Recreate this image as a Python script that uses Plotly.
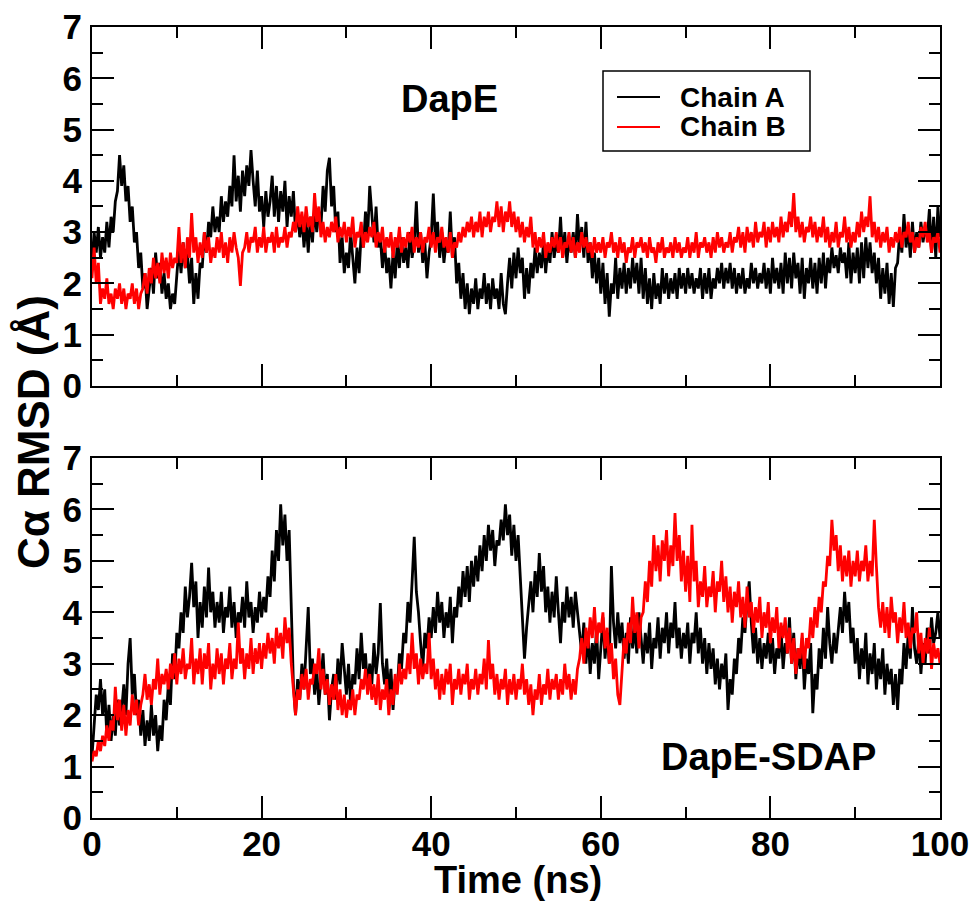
import plotly.graph_objects as go

# ---------------- data (RMSD in Angstrom, sampled every 0.25 ns) ----------------
TIME_STEP_NS = 0.25

top_chain_a = [
    2.4, 3.0, 2.6, 3.1, 2.5, 2.9, 2.6, 3.2, 2.7, 3.3, 3.0, 3.6, 3.8, 4.5, 3.9, 4.3, 3.6, 3.9, 3.2, 3.5,
    2.8, 3.0, 2.3, 2.6, 1.9, 2.2, 1.5, 1.9, 2.3, 1.8, 2.6, 2.1, 2.4, 1.8, 2.2, 1.7, 2.0, 1.5, 1.8, 1.6,
    2.1, 2.7, 2.2, 2.8, 2.3, 2.6, 2.0, 2.5, 1.6, 2.2, 1.7, 2.4, 2.3, 3.0, 2.6, 3.2, 2.9, 3.5, 3.0, 3.3,
    3.0, 3.7, 3.2, 3.6, 3.3, 3.9, 3.5, 4.5, 3.6, 4.1, 3.4, 4.2, 3.7, 4.3, 3.9, 4.6, 4.0, 3.5, 4.2, 3.4,
    3.7, 3.1, 3.8, 3.3, 3.6, 4.1, 3.3, 3.9, 3.2, 3.8, 3.4, 4.0, 3.1, 3.7, 3.3, 3.8, 3.0, 3.4, 2.9, 3.3,
    2.7, 3.2, 2.6, 3.3, 2.8, 3.5, 3.0, 3.4, 3.1, 3.9, 3.4, 4.2, 4.45, 3.5, 3.9, 3.0, 3.4, 2.4, 2.9, 2.2,
    2.6, 2.3, 3.0, 2.5, 2.0, 2.7, 2.2, 3.0, 2.7, 3.4, 2.9, 3.9, 3.3, 2.8, 3.5, 2.7, 2.9, 2.3, 2.8, 2.2,
    2.5, 1.9, 2.6, 2.1, 2.8, 2.3, 2.9, 2.4, 2.7, 2.3, 3.0, 2.5, 2.8, 3.6, 2.6, 3.0, 2.4, 2.8, 2.1, 2.6,
    2.9, 3.75, 2.8, 3.2, 2.5, 3.0, 2.4, 2.8, 2.6, 3.4, 2.5, 2.9, 2.0, 2.4, 1.7, 2.2, 1.5, 2.0, 1.4, 1.9,
    1.6, 2.1, 1.5, 1.9, 1.7, 2.2, 1.6, 2.0, 1.5, 2.1, 1.7, 1.9, 1.5, 2.2, 1.6, 1.4, 2.0, 2.5, 1.9, 2.6,
    2.1, 2.7, 2.2, 2.5, 1.7, 2.3, 1.8, 2.4, 2.1, 2.7, 2.2, 2.6, 2.3, 2.8, 2.2, 2.7, 2.4, 3.0, 2.5, 2.8,
    2.6, 3.3, 2.5, 3.0, 2.4, 2.9, 2.6, 3.0, 2.5, 3.35, 2.7, 3.1, 2.5, 3.2, 2.4, 2.8, 2.1, 2.6, 2.0, 2.5,
    1.8, 2.4, 1.6, 2.2, 1.35, 2.0, 1.8, 2.5, 1.7, 2.3, 1.9, 2.4, 1.8, 2.3, 1.9, 2.5, 2.0, 2.4, 1.8, 2.5,
    1.7, 2.3, 1.6, 2.1, 1.5, 2.2, 1.7, 2.0, 1.6, 2.3, 1.8, 2.2, 1.7, 2.1, 1.8, 2.2, 1.7, 2.3, 1.9, 2.2,
    1.8, 2.3, 1.9, 2.2, 1.8, 2.1, 1.9, 2.3, 1.7, 2.2, 1.8, 2.3, 1.7, 2.1, 1.9, 2.3, 2.0, 2.4, 1.9, 2.3,
    2.0, 2.4, 1.9, 2.3, 1.8, 2.2, 1.9, 2.3, 1.8, 2.1, 1.9, 2.4, 2.0, 2.3, 1.9, 2.2, 2.0, 2.4, 1.9, 2.3,
    1.8, 2.5, 2.0, 2.3, 1.9, 2.4, 1.8, 2.6, 2.0, 2.5, 1.9, 2.6, 2.1, 2.4, 1.8, 2.5, 1.7, 2.3, 2.0, 2.5,
    1.9, 2.4, 1.8, 2.5, 2.0, 2.6, 1.9, 2.5, 2.2, 2.7, 2.3, 2.55, 2.2, 2.7, 2.4, 2.6, 2.1, 2.8, 2.0, 2.6,
    2.2, 2.7, 2.0, 2.8, 2.1, 2.9, 2.3, 2.8, 2.2, 2.6, 2.0, 2.5, 1.7, 2.3, 1.8, 2.4, 1.6, 2.2, 1.54, 2.3,
    2.4, 3.0, 2.6, 3.35, 2.7, 3.1, 2.5, 3.2, 2.6, 3.0, 2.7, 3.2, 2.8, 3.1, 2.9, 3.45, 2.6, 3.3, 2.5, 3.5,
    2.9,
]

top_chain_b = [
    2.1, 2.7, 2.0, 2.4, 1.6, 1.9, 1.7, 2.1, 1.6, 1.8, 1.5, 1.9, 1.7, 2.0, 1.6, 1.9, 1.5, 1.8, 1.7, 2.0,
    1.6, 1.9, 1.5, 1.8, 1.9, 2.2, 1.8, 2.3, 2.0, 2.5, 2.1, 2.4, 2.0, 2.6, 2.2, 2.5, 2.1, 2.6, 2.3, 2.5,
    2.4, 3.1, 2.4, 2.8, 2.3, 2.9, 2.5, 3.37, 2.6, 2.9, 2.4, 2.8, 2.5, 3.0, 2.6, 2.9, 2.4, 2.7, 2.5, 2.9,
    2.6, 3.0, 2.5, 2.8, 2.4, 2.9, 2.6, 3.0, 2.7, 2.5, 1.95, 2.6, 2.7, 3.0, 2.6, 2.9, 2.8, 3.1, 2.6, 2.9,
    2.7, 3.1, 2.6, 2.9, 2.8, 3.0, 2.6, 3.1, 2.7, 2.9, 2.8, 3.1, 2.7, 3.0, 2.9, 3.2, 3.0, 3.5, 3.1, 3.4,
    3.0, 3.5, 3.1, 3.3, 3.0, 3.76, 3.2, 3.5, 2.9, 3.2, 2.8, 3.1, 2.9, 3.2, 3.0, 3.3, 2.8, 3.1, 2.9, 3.2,
    2.8, 3.1, 2.9, 3.3, 2.7, 3.0, 2.9, 3.2, 2.7, 3.0, 2.8, 3.1, 2.9, 3.2, 2.7, 3.0, 2.8, 3.1, 2.6, 2.9,
    2.7, 3.0, 2.5, 2.9, 2.7, 3.1, 2.6, 2.9, 2.7, 3.0, 2.8, 3.1, 2.6, 2.9, 2.7, 3.0, 2.6, 2.9, 2.8, 3.1,
    2.7, 3.0, 2.6, 2.9, 2.8, 3.1, 2.7, 2.9, 2.6, 3.0, 2.5, 2.8, 2.7, 3.0, 2.8, 3.1, 2.9, 3.2, 3.0, 3.3,
    2.9, 3.2, 3.0, 3.4, 2.9, 3.3, 3.1, 3.4, 3.0, 3.3, 3.2, 3.6, 3.1, 3.5, 3.0, 3.4, 3.2, 3.6, 3.1, 3.4,
    3.0, 3.3, 2.9, 3.2, 2.8, 3.1, 2.9, 3.3, 2.7, 3.0, 2.6, 2.9, 2.7, 3.0, 2.5, 2.8, 2.6, 2.9, 2.7, 3.0,
    2.6, 2.9, 2.5, 2.8, 2.7, 3.0, 2.6, 2.9, 2.5, 2.8, 2.6, 3.0, 2.7, 2.9, 2.6, 2.8, 2.5, 2.9, 2.6, 2.8,
    2.6, 2.9, 2.5, 2.8, 2.7, 3.0, 2.6, 2.8, 2.5, 2.9, 2.6, 2.8, 2.4, 2.7, 2.6, 2.9, 2.5, 2.8, 2.7, 2.9,
    2.6, 2.8, 2.5, 2.9, 2.6, 2.7, 2.4, 2.8, 2.6, 2.9, 2.5, 2.7, 2.6, 2.8, 2.5, 2.9, 2.6, 2.8, 2.5, 2.7,
    2.6, 2.9, 2.5, 2.8, 2.6, 3.0, 2.5, 2.8, 2.7, 2.9, 2.6, 2.8, 2.5, 2.9, 2.6, 3.0, 2.7, 2.9, 2.6, 2.8,
    2.7, 3.0, 2.6, 2.9, 2.8, 3.1, 2.7, 3.0, 2.6, 3.1, 2.8, 3.0, 2.7, 3.2, 2.8, 3.0, 2.9, 3.2, 2.7, 3.1,
    2.8, 3.2, 2.9, 3.1, 2.8, 3.3, 2.9, 3.2, 3.0, 3.4, 3.1, 3.76, 3.0, 3.3, 2.9, 3.2, 2.8, 3.1, 3.0, 3.3,
    2.9, 3.2, 2.8, 3.1, 2.9, 3.3, 2.8, 3.1, 2.7, 3.0, 2.8, 3.2, 2.7, 3.0, 2.9, 3.3, 2.8, 3.1, 2.7, 3.0,
    2.8, 3.2, 2.9, 3.4, 3.0, 3.3, 3.1, 3.7, 2.9, 3.2, 2.8, 3.1, 2.7, 3.0, 2.8, 3.1, 2.6, 2.9, 2.7, 3.0,
    2.8, 3.1, 2.7, 3.0, 2.9, 3.2, 2.8, 3.0, 2.6, 2.9, 2.7, 3.1, 2.9, 3.2, 2.8, 3.0, 2.6, 2.9, 2.8, 3.0,
    2.6,
]

bottom_chain_a = [
    1.2, 1.8, 2.4, 2.1, 2.7, 2.0, 2.5, 1.6, 2.2, 1.5, 2.0, 1.6, 2.3, 1.8, 2.1, 2.6, 2.0, 3.0, 3.5, 2.4,
    2.8, 2.0, 2.3, 1.6, 2.1, 1.4, 1.9, 1.5, 2.2, 1.6, 2.0, 1.3, 1.8, 1.5, 2.3, 1.9, 2.6, 2.2, 3.2, 2.7,
    3.6, 3.3, 4.0, 3.6, 4.5, 3.9, 4.3, 4.96, 4.1, 4.6, 3.5, 4.2, 3.7, 4.5, 3.9, 4.87, 4.0, 4.4, 3.7, 4.2,
    3.8, 4.4, 3.6, 4.1, 3.9, 4.5, 3.7, 4.2, 3.5, 4.0, 3.8, 4.3, 3.7, 4.6, 3.9, 4.2, 3.6, 4.1, 3.8, 4.4,
    3.9, 4.3, 4.0, 4.7, 4.3, 5.2, 4.6, 5.6, 5.0, 6.1, 5.3, 5.9, 5.0, 5.6, 4.0, 2.6, 2.0, 2.7, 2.3, 3.0,
    2.5, 3.3, 4.1, 2.8, 3.1, 2.4, 2.9, 2.2, 2.7, 3.2, 2.4, 2.8, 1.9, 2.5, 2.8, 2.3, 3.1, 2.6, 3.4, 2.8,
    2.4, 3.0, 2.2, 2.8, 2.6, 3.3, 2.7, 3.6, 2.9, 3.2, 2.5, 3.0, 2.6, 3.4, 2.8, 3.2, 4.18, 3.0, 2.6, 3.1,
    2.4, 2.9, 2.1, 2.7, 2.5, 3.2, 2.9, 3.6, 3.4, 4.2, 3.8, 4.6, 5.47, 4.4, 4.0, 3.4, 2.9, 3.6, 3.3, 3.9,
    3.5, 4.1, 3.6, 4.4, 3.8, 4.2, 3.5, 4.0, 3.7, 4.3, 3.4, 4.1, 3.9, 4.5, 4.1, 4.8, 4.3, 4.9, 4.2, 5.0,
    4.5, 5.1, 4.6, 5.3, 4.8, 5.5, 5.0, 5.7, 5.2, 5.6, 4.9, 5.4, 5.3, 5.8, 5.4, 6.1, 5.5, 5.9, 5.1, 5.7,
    5.0, 5.5, 4.7, 4.1, 3.1, 3.7, 4.2, 4.6, 4.0, 4.8, 4.3, 5.15, 4.4, 4.9, 4.0, 4.5, 3.8, 4.4, 3.9, 4.7,
    4.0, 3.4, 4.2, 3.8, 4.5, 3.9, 4.3, 3.7, 4.4, 4.0, 3.6, 3.2, 3.8, 3.0, 3.6, 2.8, 3.4, 3.0, 3.7, 2.7,
    3.3, 3.9, 3.1, 3.6, 3.0, 4.9, 3.8, 3.3, 4.0, 3.4, 3.8, 3.1, 3.6, 3.0, 3.9, 3.3, 3.7, 3.2, 4.0, 3.5,
    3.0, 3.6, 3.2, 3.8, 2.9, 3.5, 3.3, 3.9, 3.1, 3.7, 3.4, 4.0, 3.2, 3.8, 3.5, 4.2, 3.3, 3.7, 3.1, 3.6,
    3.3, 3.8, 3.0, 3.6, 3.4, 4.0, 3.2, 3.7, 3.0, 3.5, 2.8, 3.4, 2.9, 3.3, 2.6, 3.1, 2.5, 3.0, 2.7, 3.2,
    2.1, 2.7, 2.4, 3.1, 2.8, 3.5, 3.2, 3.9, 3.6, 4.2, 4.6, 3.8, 3.2, 3.7, 3.0, 3.5, 2.9, 3.4, 3.1, 3.6,
    3.0, 3.5, 2.8, 3.3, 3.1, 3.7, 2.9, 3.4, 3.2, 3.9, 3.0, 3.6, 2.7, 3.3, 2.9, 3.5, 2.5, 3.1, 2.8, 3.4,
    2.04, 2.8, 2.5, 3.3, 2.9, 3.7, 3.1, 4.1, 3.4, 3.0, 3.6, 3.2, 3.7, 4.1, 3.6, 4.4, 3.8, 4.2, 3.4, 3.7,
    3.0, 3.5, 2.7, 3.3, 2.9, 3.6, 2.6, 3.2, 2.8, 3.4, 2.5, 3.1, 2.7, 3.3, 2.4, 3.0, 2.6, 2.9, 2.2, 2.8,
    2.1, 2.9, 2.6, 3.4, 2.9, 3.6, 3.1, 4.1, 3.3, 3.0, 3.5, 2.8, 3.4, 3.0, 3.7, 3.2, 3.9, 3.4, 3.6, 4.0,
    3.5,
]

bottom_chain_b = [
    1.1, 1.3, 1.2, 1.5, 1.3, 1.6, 1.4, 1.8, 1.5, 1.9, 1.7, 2.55, 1.9, 2.3, 1.7, 2.2, 1.6, 2.1, 1.8, 2.4,
    2.0, 2.3, 1.8, 2.2, 2.4, 2.8, 2.3, 2.6, 2.2, 2.7, 2.5, 3.1, 2.4, 2.8, 2.6, 2.9, 2.5, 3.0, 2.7, 3.2,
    2.6, 3.1, 2.8, 3.3, 2.7, 3.0, 2.9, 3.5, 2.6, 3.1, 2.8, 3.3, 2.6, 3.2, 2.9, 3.4, 2.5, 3.0, 2.7, 3.3,
    2.8, 3.2, 2.6, 3.1, 2.9, 3.4, 2.7, 3.1, 2.9, 3.8, 3.0, 3.3, 2.7, 3.2, 2.9, 3.5, 2.8, 3.3, 3.0, 3.4,
    2.9, 3.4, 3.1, 3.6, 3.2, 3.5, 3.0, 3.7, 3.3, 3.6, 3.1, 3.9, 3.4, 3.7, 3.0, 2.4, 2.0, 2.5, 2.3, 2.8,
    2.5, 2.9, 2.3, 2.7, 2.6, 3.0, 2.8, 3.3, 2.5, 2.9, 2.4, 2.7, 2.2, 2.6, 2.3, 2.8, 2.1, 2.5, 2.0, 2.4,
    1.95, 2.3, 2.1, 2.5, 2.0, 2.4, 2.3, 2.7, 2.5, 2.9, 2.4, 2.8, 2.3, 2.6, 2.2, 2.8, 2.1, 2.5, 2.3, 2.7,
    2.0, 2.5, 2.2, 2.8, 2.4, 3.0, 2.6, 2.9, 2.7, 3.2, 2.8, 3.6, 2.9, 3.2, 2.6, 3.1, 2.7, 3.0, 2.8, 3.6,
    2.7, 3.1, 2.5, 2.9, 2.3, 2.8, 2.4, 2.9, 2.6, 3.0, 2.2, 2.7, 2.5, 2.9, 2.4, 2.8, 2.6, 3.0, 2.3, 2.7,
    2.5, 2.9, 2.4, 2.8, 2.6, 3.1, 2.5, 3.46, 2.7, 3.0, 2.4, 2.8, 2.3, 2.7, 2.5, 2.9, 2.2, 2.7, 2.4, 2.8,
    2.3, 2.7, 2.5, 3.0, 2.4, 2.7, 2.2, 2.6, 2.0, 2.5, 2.3, 2.8, 2.2, 2.6, 2.4, 2.9, 2.3, 2.7, 2.5, 2.8,
    2.3, 2.7, 2.4, 3.0, 2.5, 2.8, 2.3, 2.7, 2.4, 2.9, 3.1, 3.5, 3.0, 3.7, 3.3, 3.9, 3.5, 4.1, 3.4, 3.8,
    3.6, 4.0, 3.3, 3.7, 3.0, 3.4, 2.7, 3.1, 2.4, 2.2, 2.9, 3.5, 3.2, 3.8, 3.4, 4.3, 3.6, 4.0, 3.3, 3.9,
    4.0, 4.6, 4.2, 5.0, 4.5, 5.5, 4.8, 5.3, 4.6, 5.4, 5.0, 5.6, 4.7, 5.3, 4.9, 5.93, 5.0, 5.5, 4.6, 5.2,
    4.4, 5.1, 4.2, 5.7, 4.6, 5.0, 4.1, 4.6, 4.3, 4.9, 4.1, 4.5, 4.3, 4.8, 4.0, 4.6, 4.4, 5.0, 4.2, 4.7,
    4.0, 4.5, 3.8, 4.4, 4.1, 4.6, 3.9, 4.3, 3.7, 4.5, 3.9, 4.2, 3.6, 4.1, 3.8, 4.3, 3.5, 4.0, 3.7, 4.2,
    3.4, 3.9, 3.6, 4.1, 3.3, 3.8, 3.5, 3.9, 3.2, 3.7, 3.0, 3.5, 2.8, 3.3, 3.1, 3.6, 2.9, 3.5, 3.3, 3.9,
    3.5, 4.1, 3.7, 4.3, 4.0, 4.6, 4.5, 5.1, 4.9, 5.8, 5.2, 5.5, 4.8, 5.3, 4.6, 5.1, 4.7, 5.2, 4.5, 5.0,
    4.7, 5.2, 4.6, 5.0, 4.8, 5.3, 4.6, 5.0, 4.7, 5.8, 4.9, 4.1, 3.7, 4.2, 3.6, 4.1, 3.5, 4.3, 3.8, 4.0,
    3.4, 3.9, 3.6, 4.2, 3.5, 3.8, 3.3, 3.7, 3.6, 4.0, 3.2, 3.6, 3.0, 3.5, 3.2, 3.7, 2.9, 3.4, 3.1, 3.3,
    3.0,
]

series_names = ["Chain A", "Chain B"]
series_colors = ["black", "#ff0000"]
panel_labels = ["DapE", "DapE-SDAP"]
x_title = "Time (ns)"
y_title = "C\u03b1 RMSD (\u00c5)"

time_ns = [i * TIME_STEP_NS for i in range(len(top_chain_a))]

# ---------------- figure ----------------
FONT_FAMILY = "Liberation Sans, Arial, sans-serif"
tick_font = dict(family=FONT_FAMILY, size=35, color="black", weight="bold")
title_font = dict(family=FONT_FAMILY, size=38, color="black", weight="bold")
ytitle_font = dict(family=FONT_FAMILY, size=44, color="black", weight="bold")
legend_font = dict(family=FONT_FAMILY, size=28, color="black", weight="bold")

fig = go.Figure()
line_w = 2.8
panels = [("x2", "y2", top_chain_a, top_chain_b), ("x", "y", bottom_chain_a, bottom_chain_b)]
for xa, ya, ser_a, ser_b in panels:
    for name, color, ser in zip(series_names, series_colors, (ser_a, ser_b)):
        fig.add_trace(go.Scatter(x=time_ns, y=ser, mode="lines", name=name, showlegend=False,
                                 line=dict(color=color, width=line_w), xaxis=xa, yaxis=ya))

axis_common = dict(showline=True, linecolor="black", linewidth=2, mirror="allticks",
                   ticks="inside", ticklen=22, tickwidth=2, tickcolor="black",
                   showgrid=False, zeroline=False, tickfont=tick_font, automargin=False)

xaxis_cfg = dict(axis_common, range=[0, 100], tick0=0, dtick=20, ticklabelstandoff=-6,
                 minor=dict(ticks="inside", ticklen=11, tickwidth=2, tickcolor="black", dtick=10))
yaxis_cfg = dict(axis_common, range=[0, 7], tick0=0, dtick=1, ticklabelstandoff=1,
                 minor=dict(ticks="inside", ticklen=11, tickwidth=2, tickcolor="black", dtick=0.5))

# pixel -> paper helpers for the fixed plot area (92..940 x, 27..818 y)
def px_x(px):
    return (px - 92) / 848.0

def px_y(py):
    return (818 - py) / 791.0

# legend drawn as a framed box in the top panel
legend_rows_py = [97, 127]
shapes = [dict(type="rect", xref="paper", yref="paper",
               x0=px_x(603), x1=px_x(810), y0=px_y(151), y1=px_y(71),
               line=dict(color="black", width=1.5), fillcolor="white", layer="above")]
annotations = []
for name, color, py in zip(series_names, series_colors, legend_rows_py):
    shapes.append(dict(type="line", xref="paper", yref="paper",
                       x0=px_x(617), x1=px_x(660), y0=px_y(py), y1=px_y(py),
                       line=dict(color=color, width=2), layer="above"))
    annotations.append(dict(text=name, xref="paper", yref="paper", x=px_x(679), y=px_y(py),
                            xanchor="left", yanchor="middle", showarrow=False, font=legend_font,
                            borderpad=0))

annotations += [
    dict(text=panel_labels[0], xref="paper", yref="paper", x=px_x(449), y=px_y(99),
         xanchor="center", yanchor="middle", showarrow=False, font=title_font),
    dict(text=panel_labels[1], xref="paper", yref="paper", x=px_x(768), y=px_y(757),
         xanchor="center", yanchor="middle", showarrow=False, font=title_font),
    dict(text=y_title, xref="paper", yref="paper", x=px_x(33), y=px_y(432),
         xanchor="center", yanchor="middle", textangle=-90, showarrow=False, font=ytitle_font),
    dict(text=x_title, xref="paper", yref="paper", x=px_x(518), y=px_y(880),
         xanchor="center", yanchor="middle", showarrow=False, font=title_font, borderpad=0),
]

fig.update_layout(
    width=978, height=909,
    margin=dict(l=92, r=38, t=27, b=91),
    paper_bgcolor="white", plot_bgcolor="white",
    xaxis=dict(xaxis_cfg, domain=[0, 1], anchor="y"),
    xaxis2=dict(xaxis_cfg, domain=[0, 1], anchor="y2", matches="x", showticklabels=False),
    yaxis=dict(yaxis_cfg, domain=[0, 0.4551], anchor="x"),
    yaxis2=dict(yaxis_cfg, domain=[0.5462, 1], anchor="x2"),
    showlegend=False,
    shapes=shapes,
    annotations=annotations,
)

fig.write_html(
    "out.html",
    config={"displayModeBar": False},
    post_script="document.body.style.margin='0';document.body.style.padding='0';"
                "document.body.style.overflow='hidden';",
)
